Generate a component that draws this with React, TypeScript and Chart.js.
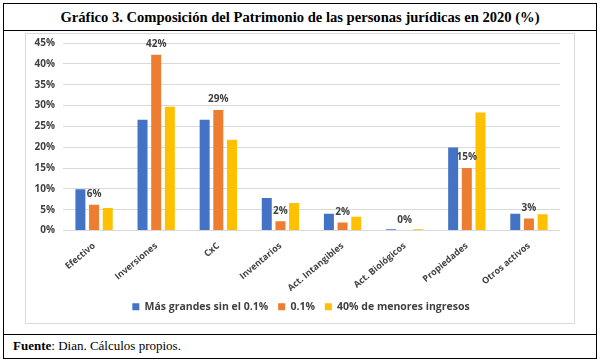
import React, { useEffect, useRef } from "react";
import { Chart, registerables } from "chart.js";

Chart.register(...registerables);

const categories = [
  "Efectivo",
  "Inversiones",
  "CxC",
  "Inventarios",
  "Act. Intangibles",
  "Act. Biológicos",
  "Propiedades",
  "Otros activos",
];
const seriesNames = ["Más grandes sin el 0.1%", "0.1%", "40% de menores ingresos"];
const masGrandes = [9.9, 26.6, 26.6, 7.8, 4.0, 0.3, 19.9, 4.0];
const top01 = [6.2, 42.2, 28.9, 2.2, 1.9, 0.0, 15.0, 2.9];
const menores40 = [5.4, 29.7, 21.8, 6.6, 3.3, 0.3, 28.3, 3.9];
const yTicks = [0, 5, 10, 15, 20, 25, 30, 35, 40, 45];
const colors = ["#4472C4", "#ED7D31", "#FFC000"];

const FONT = "'Open Sans', 'DejaVu Sans', sans-serif";

const labelPlugin = {
  id: "orangeLabels",
  afterDatasetsDraw(chart: any) {
    const ctx = chart.ctx;
    const meta = chart.getDatasetMeta(1);
    const data = chart.data.datasets[1].data as number[];
    ctx.save();
    ctx.font = `bold 10px ${FONT}`;
    ctx.fillStyle = "#404040";
    ctx.textAlign = "center";
    ctx.textBaseline = "bottom";
    meta.data.forEach((el: any, i: number) => {
      ctx.fillText(`${Math.round(data[i])}%`, el.x, el.y - 5.5);
    });
    ctx.restore();
  },
};

const legendShift = {
  id: "legendShift",
  afterLayout(chart: any) {
    if (chart.legend) {
      chart.legend.left += 8;
      chart.legend.right += 8;
    }
  },
};

export default function App() {
  const ref = useRef<HTMLCanvasElement | null>(null);
  useEffect(() => {
    if (!ref.current) return;
    const chart = new Chart(ref.current, {
      type: "bar",
      data: {
        labels: categories,
        datasets: [masGrandes, top01, menores40].map((d, i) => ({
          label: seriesNames[i],
          data: d,
          backgroundColor: colors[i],
          categoryPercentage: 0.66,
          barPercentage: 0.73,
        })),
      },
      options: {
        responsive: false,
        animation: false,
        layout: { padding: { top: 2, right: 14, bottom: 0, left: 0 } },
        plugins: {
          legend: {
            position: "bottom",
            labels: {
              boxWidth: 7,
              boxHeight: 7,
              padding: 10,
              color: "#404040",
              font: { family: FONT, size: 10.5, weight: "bold" },
            },
          },
          tooltip: { enabled: false },
        },
        scales: {
          x: {
            grid: { display: false },
            border: { display: false },
            ticks: {
              minRotation: 40,
              maxRotation: 40,
              padding: 2,
              color: "#404040",
              font: { family: FONT, size: 9, weight: "bold" },
            },
            afterFit: (s: any) => {
              s.height = 61;
            },
          },
          y: {
            min: 0,
            max: 45,
            afterBuildTicks: (s: any) => {
              s.ticks = yTicks.map((v) => ({ value: v }));
            },
            grid: { color: "#d9d9d9", drawTicks: false },
            border: { display: false },
            ticks: {
              padding: 8,
              color: "#404040",
              font: { family: FONT, size: 10, weight: "bold" },
              callback: (v: any) => `${v}%`,
            },
            afterFit: (s: any) => {
              s.width = 37;
            },
          },
        },
      },
      plugins: [labelPlugin, legendShift],
    });
    return () => chart.destroy();
  }, []);

  const abs = (o: React.CSSProperties): React.CSSProperties => ({ position: "absolute", ...o });

  return (
    <div style={abs({ left: 0, top: 0, width: 601, height: 364, background: "#fff" })}>
      <div style={abs({ left: 3, top: 3, width: 594, height: 356, border: "1px solid #000", boxSizing: "border-box" })} />
      <div
        style={abs({
          left: 3,
          top: 3,
          width: 594,
          height: 28,
          display: "flex",
          alignItems: "center",
          justifyContent: "center",
          fontFamily: "'Liberation Serif', 'Times New Roman', serif",
          fontWeight: "bold",
          fontSize: 14.6,
          color: "#000",
        })}
      >
        Gráfico 3. Composición del Patrimonio de las personas jurídicas en 2020 (%)
      </div>
      <div style={abs({ left: 3, top: 30, width: 594, height: 1, background: "#000" })} />
      <div style={abs({ left: 25, top: 33, width: 550, height: 291, border: "1px solid #d9d9d9", boxSizing: "border-box" })} />
      <canvas ref={ref} width={548} height={293} style={abs({ left: 26, top: 29, display: "block" })} />
      <div style={abs({ left: 3, top: 334, width: 594, height: 1, background: "#000" })} />
      <div
        style={abs({
          left: 13,
          top: 334,
          height: 24,
          display: "flex",
          alignItems: "center",
          fontFamily: "'Liberation Serif', 'Times New Roman', serif",
          fontSize: 13,
          color: "#000",
          whiteSpace: "nowrap",
        })}
      >
        <b>Fuente</b>: Dian. Cálculos propios.
      </div>
    </div>
  );
}
